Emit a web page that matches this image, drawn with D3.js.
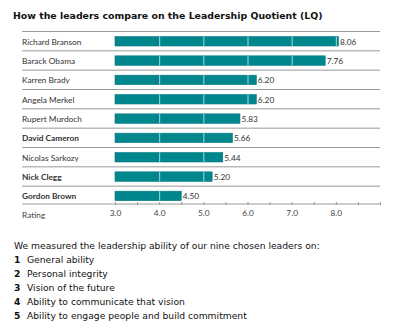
<!DOCTYPE html>
<html><head><meta charset="utf-8">
<script src="https://cdn.jsdelivr.net/npm/d3@7"></script>
<style>body{margin:0;background:#fff}</style>
</head><body>
<script>
const leaders = ["Richard Branson","Barack Obama","Karren Brady","Angela Merkel","Rupert Murdoch","David Cameron","Nicolas Sarkozy","Nick Clegg","Gordon Brown"];
const scores = [8.06,7.76,6.20,6.20,5.83,5.66,5.44,5.20,4.50];
const boldLeaders = ["David Cameron","Nick Clegg","Gordon Brown"];
const tickValues = [3,4,5,6,7,8];
const title = "How the leaders compare on the Leadership Quotient (LQ)";
const intro = "We measured the leadership ability of our nine chosen leaders on:";
const criteria = ["General ability","Personal integrity","Vision of the future","Ability to communicate that vision","Ability to engage people and build commitment"];

const W=400,H=328;
const svg=d3.select("body").append("svg").attr("width",W).attr("height",H);
const nameFont="'Liberation Sans Narrow','Lato',sans-serif";
const nfs=8.3;

svg.append("text").attr("x",13).attr("y",19).attr("font-family","'DejaVu Sans',Verdana,sans-serif")
  .attr("font-weight","bold").attr("font-size",9.4).attr("fill","#111").text(title);

const x=d3.scaleLinear().domain([3,9]).range([115,380]);
const y=d3.scaleBand().domain(leaders).range([31,205]).paddingInner(0);

svg.selectAll("line.sep").data(leaders).join("line").attr("class","sep")
  .attr("x1",22).attr("x2",380).attr("y1",d=>y(d)+0.5).attr("y2",d=>y(d)+0.5)
  .attr("stroke","#9a9a9a").attr("stroke-width",1);

const bh=9.5;
svg.selectAll("rect.bar").data(leaders).join("rect").attr("class","bar")
  .attr("x",x(3)).attr("y",d=>y(d)+5.5).attr("height",bh)
  .attr("width",(d,i)=>x(scores[i])-x(3)).attr("fill","#00878d")
  .attr("stroke","#0a7a80").attr("stroke-width",0.6);

leaders.forEach((d,i)=>{
  tickValues.filter(t=>t>3 && t<scores[i]).forEach(t=>{
    svg.append("line").attr("x1",x(t)+0.5).attr("x2",x(t)+0.5)
      .attr("y1",y(d)+5.5).attr("y2",y(d)+5.5+bh).attr("stroke","#a8d6d8").attr("stroke-width",1);
  });
});

svg.selectAll("text.name").data(leaders).join("text").attr("class","name")
  .attr("x",22).attr("y",d=>y(d)+13.5).attr("font-family",nameFont)
  .attr("font-size",nfs).attr("fill","#333")
  .attr("font-weight",d=>boldLeaders.includes(d)?"bold":"normal").text(d=>d);

svg.selectAll("text.val").data(leaders).join("text").attr("class","val")
  .attr("x",(d,i)=>x(scores[i])+1.5).attr("y",d=>y(d)+13.5).attr("font-family",nameFont)
  .attr("font-size",nfs).attr("fill","#333").text((d,i)=>scores[i].toFixed(2));

const axisY=205;
const axis=d3.axisBottom(x).tickValues(d3.range(3,9.01,0.5)).tickSize(3)
  .tickFormat(d=>tickValues.includes(d)?d.toFixed(1):"");
const ag=svg.append("g").attr("transform",`translate(0,${axisY-1.5})`).call(axis);
ag.select(".domain").attr("d",`M${x(3)},0.5H${x(9)}`).attr("stroke","#9a9a9a");
ag.selectAll(".tick line").attr("stroke","#9a9a9a").attr("y1",-1.5).attr("y2",1.5);
ag.selectAll(".tick text").attr("font-family",nameFont).attr("font-size",nfs).attr("fill","#444").attr("dy",0).attr("y",12);
svg.append("line").attr("x1",22).attr("x2",x(3)).attr("y1",axisY-1).attr("y2",axisY-1).attr("stroke","#9a9a9a");
svg.append("text").attr("x",22).attr("y",axisY+12.5).attr("font-family",nameFont).attr("font-size",nfs).attr("fill","#444").text("Rating");

const vf="'DejaVu Sans',Verdana,sans-serif";
const bfs=9.2;
svg.append("text").attr("x",14).attr("y",248.5).attr("font-family",vf).attr("font-size",bfs).attr("fill","#111").text(intro);
criteria.forEach((c,i)=>{
  svg.append("text").attr("x",14).attr("y",262.5+i*14).attr("font-family",vf).attr("font-size",bfs)
    .attr("font-weight","bold").attr("fill","#111").text(i+1);
  svg.append("text").attr("x",27).attr("y",262.5+i*14).attr("font-family",vf).attr("font-size",bfs).attr("fill","#111").text(c);
});
</script>
</body></html>
